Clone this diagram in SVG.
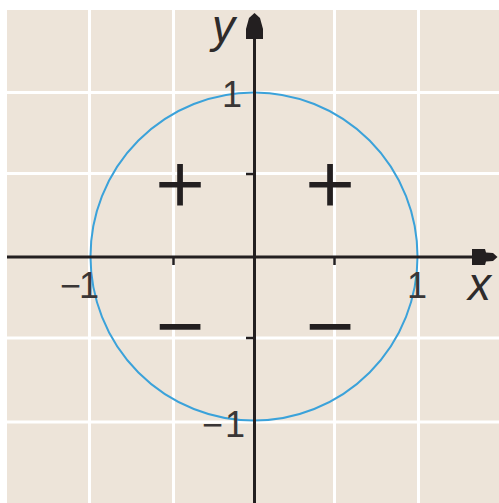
<svg xmlns="http://www.w3.org/2000/svg" width="499" height="503" viewBox="0 0 499 503">
<style>
.grid{stroke:#ffffff;stroke-width:3;fill:none}
.axis{stroke:#231f20;stroke-width:3;fill:none}
.tick{stroke:#231f20;stroke-width:2.5;fill:none}
.head{fill:#231f20}
.var{font-family:"Liberation Sans",Arial,sans-serif;font-style:italic;font-size:46px;fill:#2e2b2b}
.num{font-family:"Liberation Sans",Arial,sans-serif;font-size:36px;fill:#3a3636}
.sign{font-family:Inter,"Liberation Sans",sans-serif;font-weight:300;font-size:92px;fill:#231f20;text-anchor:middle}
</style>
<rect x="0" y="0" width="499" height="503" fill="#ffffff"/>
<rect x="7" y="10" width="492" height="493" fill="#ede4d9"/>
<g id="grid" class="grid">
<line x1="89.5" y1="10" x2="89.5" y2="503"/>
<line x1="173.5" y1="10" x2="173.5" y2="503"/>
<line x1="334.5" y1="10" x2="334.5" y2="503"/>
<line x1="418.5" y1="10" x2="418.5" y2="503"/>
<line x1="7" y1="92.5" x2="499" y2="92.5"/>
<line x1="7" y1="173.5" x2="499" y2="173.5"/>
<line x1="7" y1="338" x2="499" y2="338"/>
<line x1="7" y1="422" x2="499" y2="422"/>
</g>
<g id="circle">
<ellipse cx="254" cy="256.5" rx="163.5" ry="164" fill="none" stroke="#3ba2da" stroke-width="2"/>
</g>
<g id="axes">
<line class="axis" x1="254.5" y1="30" x2="254.5" y2="503"/>
<line class="axis" x1="7" y1="257" x2="480" y2="257"/>
<polygon class="head" points="254.5,13 249,18 246,29 246,39 263,39 263,29 260,18"/>
<polygon class="head" points="472,249 485,249 486,252.5 493,253 497.5,257 493,261 486,261.5 485,265 472,265"/>
<line class="tick" x1="246" y1="174" x2="255" y2="174"/>
<line class="tick" x1="246" y1="338" x2="255" y2="338"/>
<line class="tick" x1="173.5" y1="257" x2="173.5" y2="265"/>
<line class="tick" x1="334.5" y1="257" x2="334.5" y2="265"/>
</g>
<g id="labels">
<text class="var" x="212" y="42">y</text>
<text class="var" x="468" y="300">x</text>
<text class="num" x="222" y="107">1</text>
<text class="num" x="407" y="298">1</text>
<text class="num" x="60" y="298" letter-spacing="-2">−1</text>
<text class="num" x="202" y="437" letter-spacing="2">−1</text>
</g>
<g id="signs">
<text class="sign" x="180" y="211">+</text>
<text class="sign" x="330" y="211">+</text>
<text class="sign" x="180" y="353">−</text>
<text class="sign" x="330" y="353">−</text>
</g>
</svg>
